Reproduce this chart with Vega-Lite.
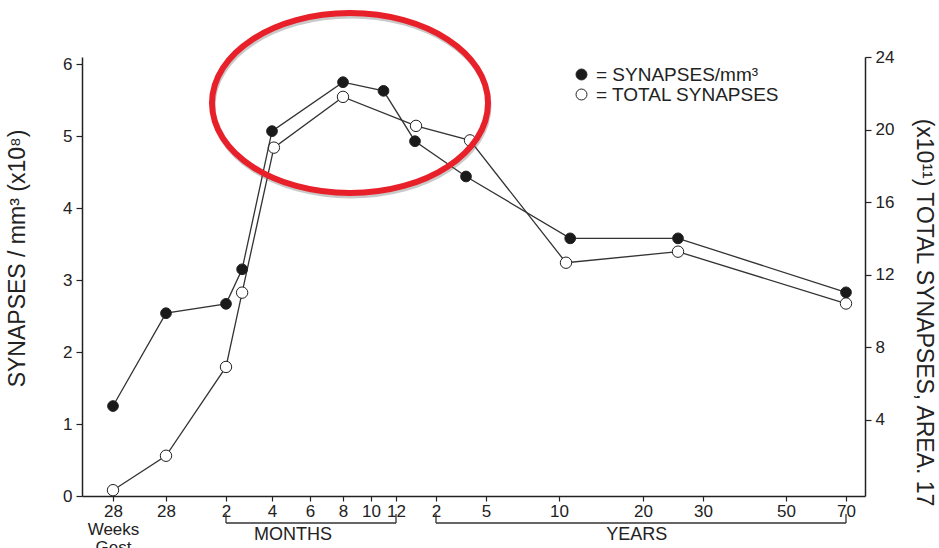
{
  "$schema": "https://vega.github.io/schema/vega-lite/v6.json",
  "width": 783,
  "height": 439,
  "autosize": {"type": "none"},
  "padding": {"left": 82, "top": 57, "right": 74, "bottom": 52},
  "background": "white",
  "config": {
    "view": {"stroke": null},
    "font": "Liberation Sans",
    "axis": {
      "labelFont": "Liberation Sans",
      "labelFontSize": 17,
      "labelColor": "#222",
      "titleFont": "Liberation Sans",
      "titleFontSize": 23,
      "titleFontWeight": "normal",
      "titleColor": "#222",
      "domainColor": "#222",
      "domainWidth": 1.5,
      "tickColor": "#222",
      "tickWidth": 1.2,
      "tickSize": 6,
      "grid": false
    }
  },
  "datasets": {
    "synapses": [
      {"series": "SYNAPSES/mm³", "age_months": -2.8, "value": 1.25},
      {"series": "SYNAPSES/mm³", "age_months": 0.92, "value": 2.54},
      {"series": "SYNAPSES/mm³", "age_months": 2, "value": 2.67},
      {"series": "SYNAPSES/mm³", "age_months": 2.7, "value": 3.15},
      {"series": "SYNAPSES/mm³", "age_months": 4, "value": 5.07},
      {"series": "SYNAPSES/mm³", "age_months": 8, "value": 5.75},
      {"series": "SYNAPSES/mm³", "age_months": 11, "value": 5.63},
      {"series": "SYNAPSES/mm³", "age_months": 17.7, "value": 4.93},
      {"series": "SYNAPSES/mm³", "age_months": 45.6, "value": 4.44},
      {"series": "SYNAPSES/mm³", "age_months": 136, "value": 3.58},
      {"series": "SYNAPSES/mm³", "age_months": 310, "value": 3.58},
      {"series": "SYNAPSES/mm³", "age_months": 840, "value": 2.83},
      {"series": "TOTAL SYNAPSES", "age_months": -2.8, "value": 0.1},
      {"series": "TOTAL SYNAPSES", "age_months": 0.92, "value": 2.0},
      {"series": "TOTAL SYNAPSES", "age_months": 2, "value": 6.9},
      {"series": "TOTAL SYNAPSES", "age_months": 2.7, "value": 11.0},
      {"series": "TOTAL SYNAPSES", "age_months": 4.1, "value": 19.0},
      {"series": "TOTAL SYNAPSES", "age_months": 8, "value": 21.8},
      {"series": "TOTAL SYNAPSES", "age_months": 18, "value": 20.2},
      {"series": "TOTAL SYNAPSES", "age_months": 48.5, "value": 19.4},
      {"series": "TOTAL SYNAPSES", "age_months": 130, "value": 12.65},
      {"series": "TOTAL SYNAPSES", "age_months": 310, "value": 13.26},
      {"series": "TOTAL SYNAPSES", "age_months": 840, "value": 10.4}
    ],
    "brackets": [
      {"label": "MONTHS", "start": 2, "end": 12, "mid": 5.1},
      {"label": "YEARS", "start": 24, "end": 840, "mid": 231}
    ],
    "highlight": [
      {"note": "peak", "age_months": 8.5, "value": 5.46}
    ]
  },
  "encoding": {
    "x": {
      "field": "age_months",
      "type": "quantitative",
      "scale": {
        "domain": [-4.98, -2.8, 0.92, 2, 4, 6, 8, 10, 12, 24, 60, 120, 240, 360, 600, 840, 916],
        "range": [0, 31, 84, 144, 190, 228, 261, 289, 314, 354, 404, 477, 561, 621, 704, 764, 783],
        "nice": false,
        "zero": false
      },
      "axis": {
        "title": null,
        "values": [-2.8, 0.92, 2, 4, 6, 8, 10, 12, 24, 60, 120, 240, 360, 600, 840],
        "labelExpr": "datum.value < 0 ? ['28', 'Weeks', 'Gest'] : datum.value < 1 ? '28' : datum.value <= 12 ? format(datum.value, 'd') : format(datum.value / 12, 'd')",
        "labelOverlap": false,
        "labelBound": false,
        "labelFlush": false,
        "labelPadding": 2,
        "labelLineHeight": 18,
        "tickSize": 5
      }
    }
  },
  "layer": [
    {
      "data": {"name": "synapses"},
      "transform": [{"filter": "datum.series === 'TOTAL SYNAPSES'"}],
      "encoding": {
        "y": {
          "field": "value",
          "type": "quantitative",
          "scale": {"domain": [-0.22, 24], "nice": false, "zero": false},
          "axis": {
            "orient": "right",
            "values": [4, 8, 12, 16, 20, 24],
            "format": "d",
            "title": "(x10¹¹) TOTAL SYNAPSES, AREA. 17",
            "titleAngle": 90,
            "titleX": 58,
            "titleY": 255,
            "titleAlign": "center",
            "titleBaseline": "middle",
            "labelPadding": 4
          }
        }
      },
      "layer": [
        {"mark": {"type": "line", "color": "#333", "strokeWidth": 1.3}},
        {
          "mark": {"type": "point", "filled": true, "size": 130, "stroke": "#222", "strokeWidth": 1, "opacity": 1},
          "encoding": {
            "fill": {
              "field": "series",
              "type": "nominal",
              "scale": {"domain": ["SYNAPSES/mm³", "TOTAL SYNAPSES"], "range": ["#1a1a1a", "white"]},
              "legend": {
                "orient": "none",
                "legendX": 490,
                "legendY": 8,
                "title": null,
                "padding": 0,
                "symbolType": "circle",
                "symbolSize": 120,
                "symbolStrokeColor": "#222",
                "symbolStrokeWidth": 1,
                "labelFont": "Liberation Sans",
                "labelFontSize": 19,
                "labelColor": "#222",
                "labelOffset": 5,
                "labelLimit": 400,
                "rowPadding": 0,
                "labelExpr": "'= ' + datum.label"
              }
            }
          }
        }
      ]
    },
    {
      "layer": [
        {
          "data": {"name": "synapses"},
          "transform": [{"filter": "datum.series === 'SYNAPSES/mm³'"}],
          "encoding": {
            "y": {
              "field": "value",
              "type": "quantitative",
              "scale": {"domain": [0, 6.1], "nice": false, "zero": false},
              "axis": {
                "orient": "left",
                "values": [0, 1, 2, 3, 4, 5, 6],
                "format": "d",
                "title": "SYNAPSES / mm³  (x10⁸)",
                "titleAngle": -90,
                "titleX": -65,
                "titleY": 201,
                "titleAlign": "center",
                "titleBaseline": "middle",
                "labelPadding": 4
              }
            }
          },
          "layer": [
            {"mark": {"type": "line", "color": "#333", "strokeWidth": 1.3}},
            {
              "mark": {"type": "point", "filled": true, "size": 115, "stroke": "#222", "strokeWidth": 1, "opacity": 1},
              "encoding": {"fill": {"field": "series", "type": "nominal"}}
            }
          ]
        },
        {
          "data": {"name": "brackets"},
          "mark": {"type": "rule", "color": "#333", "strokeWidth": 1.3},
          "encoding": {
            "x": {"field": "start", "type": "quantitative"},
            "x2": {"field": "end"},
            "y": {"datum": -0.375, "type": "quantitative"}
          }
        },
        {
          "data": {"name": "brackets"},
          "transform": [{"fold": ["start", "end"], "as": ["side", "pos"]}],
          "mark": {"type": "rule", "color": "#333", "strokeWidth": 1.3},
          "encoding": {
            "x": {"field": "pos", "type": "quantitative"},
            "y": {"datum": -0.25, "type": "quantitative"},
            "y2": {"datum": -0.375}
          }
        },
        {
          "data": {"name": "brackets"},
          "mark": {"type": "text", "font": "Liberation Sans", "fontSize": 18, "color": "#222", "align": "center", "baseline": "middle"},
          "encoding": {
            "x": {"field": "mid", "type": "quantitative"},
            "y": {"datum": -0.54, "type": "quantitative"},
            "text": {"field": "label", "type": "nominal"}
          }
        },
        {
          "data": {"name": "highlight"},
          "mark": {"type": "point", "shape": "M -1 0 A 1 0.652 0 1 1 1 0 A 1 0.652 0 1 1 -1 0 Z", "size": 76176, "filled": false, "stroke": "#666", "strokeWidth": 5, "opacity": 0.35, "xOffset": 1, "yOffset": 3},
          "encoding": {"y": {"field": "value", "type": "quantitative"}}
        },
        {
          "data": {"name": "highlight"},
          "mark": {"type": "point", "shape": "M -1 0 A 1 0.652 0 1 1 1 0 A 1 0.652 0 1 1 -1 0 Z", "size": 76176, "filled": false, "stroke": "#e8202a", "strokeWidth": 6, "opacity": 1},
          "encoding": {"y": {"field": "value", "type": "quantitative"}}
        }
      ]
    }
  ],
  "resolve": {"scale": {"y": "independent"}}
}
